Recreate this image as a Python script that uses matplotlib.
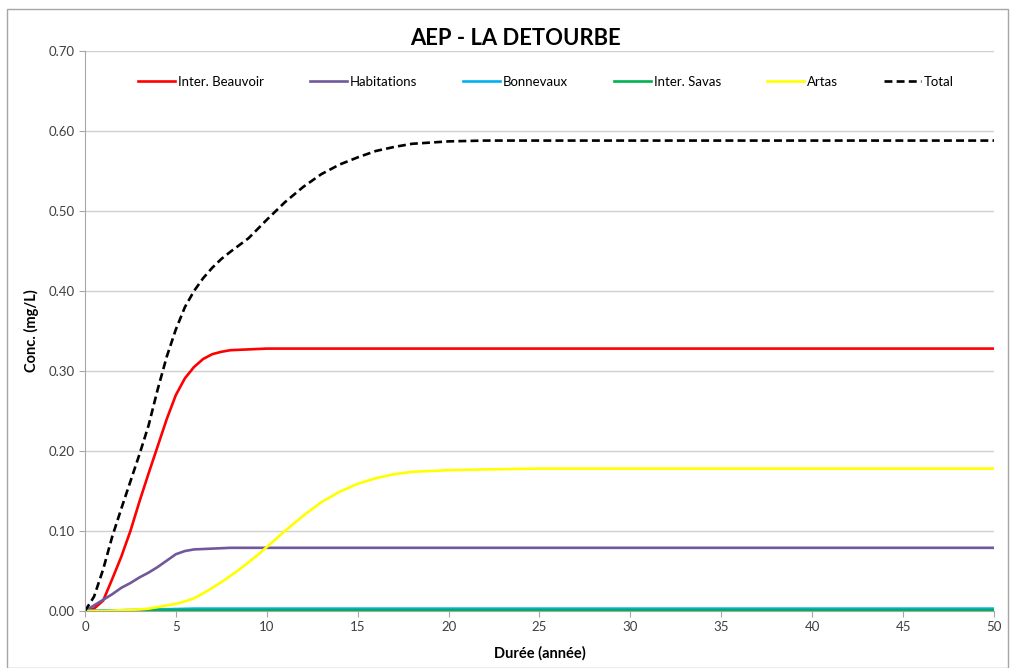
import matplotlib.pyplot as plt
from matplotlib.patches import Rectangle

plt.rcParams['font.family'] = ['Lato', 'DejaVu Sans']

# durée (année) et concentrations (mg/L)
xBeauvoir = [0, 0.5, 1, 1.5, 2, 2.5, 3, 3.5, 4, 4.5, 5, 5.5, 6, 6.5, 7, 7.5, 8, 9, 10, 20, 30, 40, 50]
yBeauvoir = [0, 0.003, 0.013, 0.04, 0.068, 0.1, 0.137, 0.172, 0.206, 0.24, 0.27, 0.291, 0.305, 0.315, 0.321, 0.324, 0.326, 0.327, 0.328, 0.328, 0.328, 0.328, 0.328]

xHabitations = [0, 0.5, 1, 1.5, 2, 2.5, 3, 3.5, 4, 4.5, 5, 5.5, 6, 7, 8, 10, 20, 30, 40, 50]
yHabitations = [0, 0.007, 0.014, 0.021, 0.029, 0.035, 0.042, 0.048, 0.055, 0.063, 0.071, 0.075, 0.077, 0.078, 0.079, 0.079, 0.079, 0.079, 0.079, 0.079]

xBonnevaux = [0, 2, 4, 6, 10, 20, 30, 40, 50]
yBonnevaux = [0, 0.001, 0.002, 0.003, 0.003, 0.003, 0.003, 0.003, 0.003]

xSavas = [0, 3, 5, 10, 20, 30, 40, 50]
ySavas = [0, 0.0005, 0.001, 0.001, 0.001, 0.001, 0.001, 0.001]

xArtas = [0, 1, 2, 3, 3.5, 4, 4.5, 5, 5.5, 6, 6.5, 7, 7.5, 8, 8.5, 9, 9.5, 10, 11, 12, 13, 14, 15, 16, 17, 18, 19, 20, 22, 25, 30, 40, 50]
yArtas = [0, 0.0, 0.001, 0.002, 0.003, 0.005, 0.007, 0.009, 0.012, 0.016, 0.022, 0.029, 0.036, 0.044, 0.052, 0.061, 0.07, 0.08, 0.1, 0.119, 0.136, 0.149, 0.159, 0.166, 0.171, 0.174, 0.175, 0.176, 0.177, 0.178, 0.178, 0.178, 0.178]

xTotal = [0, 0.5, 1, 1.5, 2, 2.5, 3, 3.5, 4, 4.5, 5, 5.5, 6, 6.5, 7, 7.5, 8, 9, 10, 11, 12, 13, 14, 15, 16, 17, 18, 20, 22, 25, 30, 40, 50]
yTotal = [0, 0.018, 0.052, 0.093, 0.128, 0.162, 0.196, 0.232, 0.277, 0.318, 0.352, 0.38, 0.4, 0.416, 0.429, 0.44, 0.449, 0.466, 0.489, 0.511, 0.53, 0.546, 0.558, 0.567, 0.575, 0.58, 0.584, 0.587, 0.588, 0.588, 0.588, 0.588, 0.588]

fig = plt.figure(figsize=(10.15, 6.68), dpi=100)
ax = fig.add_axes([0.0837, 0.0853, 0.8956, 0.8384])

ax.plot(xBeauvoir, yBeauvoir, color='#FF0000', lw=1.9, label='Inter. Beauvoir')
ax.plot(xHabitations, yHabitations, color='#71589A', lw=1.9, label='Habitations')
ax.plot(xBonnevaux, yBonnevaux, color='#00B0F0', lw=1.9, label='Bonnevaux')
ax.plot(xSavas, ySavas, color='#00B050', lw=1.9, label='Inter. Savas')
ax.plot(xArtas, yArtas, color='#FFFF00', lw=1.9, label='Artas')
ax.plot(xTotal, yTotal, color='black', lw=1.9, ls=(0, (3, 1.6)), label='Total')

ax.set_xlim(0, 50)
ax.set_ylim(0, 0.70)
ax.set_xticks(range(0, 51, 5))
ax.set_yticks([i / 10 for i in range(8)])
ax.set_yticklabels(['%.2f' % (i / 10) for i in range(8)])
ax.grid(axis='y', color='#D0D0D0', lw=1)
ax.set_axisbelow(True)
for s in ['top', 'right']:
    ax.spines[s].set_visible(False)
for s in ['left', 'bottom']:
    ax.spines[s].set_color('#A6A6A6')
ax.tick_params(colors='#A6A6A6', labelcolor='#404040', labelsize=9.5, length=4)

ax.set_xlabel('Durée (année)', fontsize=10.5, fontweight='bold', labelpad=9)
ax.set_ylabel('Conc. (mg/L)', fontsize=10.5, fontweight='bold', labelpad=7)
fig.text(0.508, 0.943, 'AEP - LA DETOURBE', ha='center', va='center', fontsize=15.8, fontweight='bold')

ax.legend(loc='center', bbox_to_anchor=(0.507, 0.945), ncol=6, frameon=False,
          fontsize=9.5, handlelength=2.8, handletextpad=0.2, columnspacing=3.5)

fig.patches.append(Rectangle((7 / 1015, 0), 1001 / 1015, 659 / 668, transform=fig.transFigure,
                             fill=False, edgecolor='#A6A6A6', lw=1))

fig.savefig('out.png', dpi=100)
